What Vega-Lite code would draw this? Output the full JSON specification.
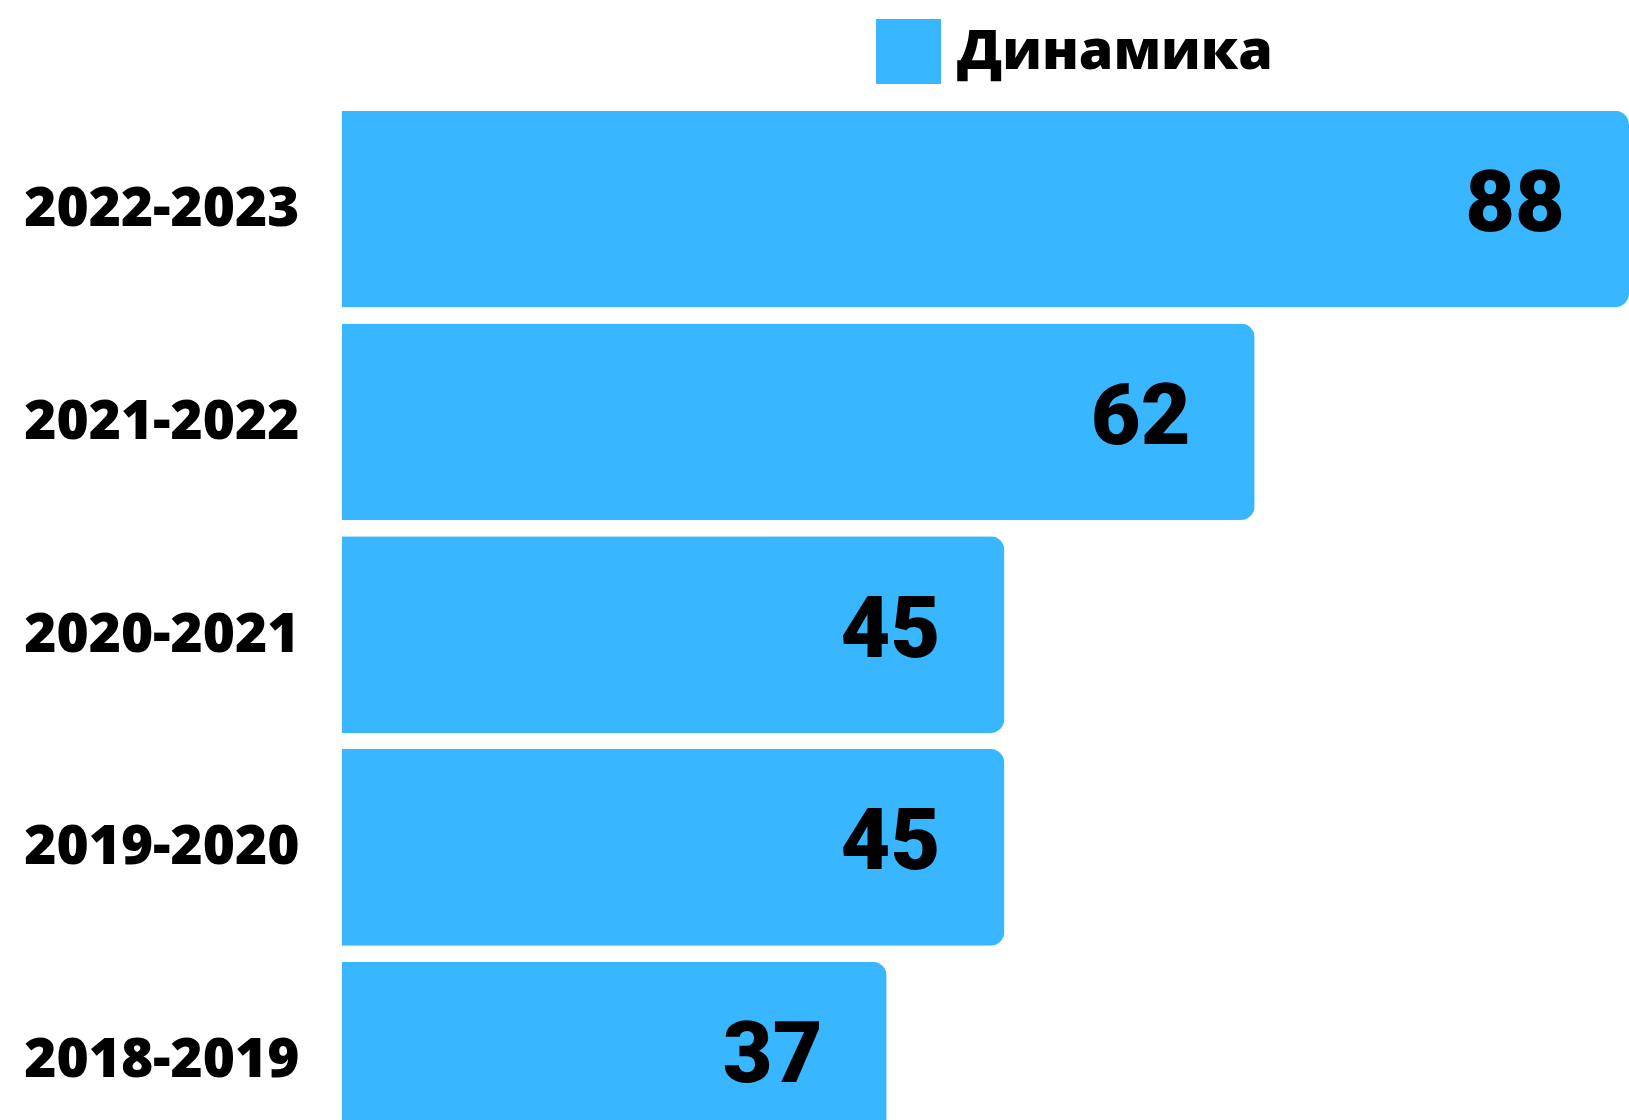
{
  "$schema": "https://vega.github.io/schema/vega-lite/v6.json",
  "autosize": {"type": "none"},
  "width": 1287,
  "height": 1120,
  "padding": {"left": 342, "top": 0, "right": 0, "bottom": 0},
  "background": "white",
  "data": {
    "values": [
      {"period": "2022-2023", "value": 88, "series": "Динамика"},
      {"period": "2021-2022", "value": 62, "series": "Динамика"},
      {"period": "2020-2021", "value": 45, "series": "Динамика"},
      {"period": "2019-2020", "value": 45, "series": "Динамика"},
      {"period": "2018-2019", "value": 37, "series": "Динамика"}
    ]
  },
  "encoding": {
    "y": {
      "field": "period",
      "type": "nominal",
      "sort": null,
      "title": null,
      "scale": {"range": [110.7, 1158.5], "paddingInner": 0.076, "paddingOuter": 0},
      "axis": {
        "domain": false,
        "ticks": false,
        "labelPadding": 43,
        "labelFont": "Open Sans",
        "labelFontWeight": 800,
        "labelFontSize": 55,
        "labelColor": "#000000",
        "labelLimit": 400
      }
    },
    "x": {
      "field": "value",
      "type": "quantitative",
      "scale": {"domain": [0, 87.43], "clamp": true, "nice": false, "zero": true},
      "axis": null
    }
  },
  "layer": [
    {
      "mark": {"type": "bar", "cornerRadiusEnd": 14},
      "encoding": {
        "color": {
          "field": "series",
          "type": "nominal",
          "scale": {"range": ["#38b6ff"]},
          "legend": {
            "title": null,
            "orient": "none",
            "legendX": 534,
            "legendY": 19,
            "padding": 0,
            "symbolType": "square",
            "symbolSize": 4225,
            "symbolStrokeWidth": 0,
            "symbolOpacity": 1,
            "labelOffset": 16,
            "labelFont": "Open Sans",
            "labelFontWeight": 800,
            "labelFontSize": 55.5,
            "labelColor": "#000000",
            "labelLimit": 500
          }
        }
      }
    },
    {
      "mark": {
        "type": "text",
        "align": "center",
        "baseline": "middle",
        "dx": -114,
        "dy": -4,
        "font": "Roboto",
        "fontWeight": 900,
        "fontSize": 86,
        "color": "#000000"
      },
      "encoding": {"text": {"field": "value", "type": "quantitative"}}
    }
  ],
  "config": {"view": {"stroke": null}}
}
